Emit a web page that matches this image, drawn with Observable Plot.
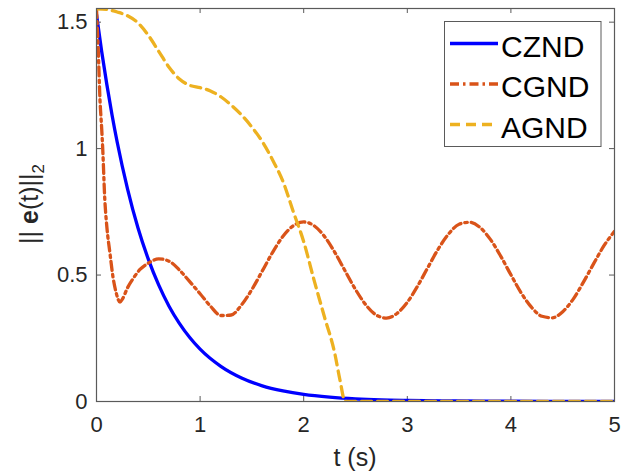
<!DOCTYPE html>
<html>
<head>
<meta charset="utf-8">
<script src="https://cdn.jsdelivr.net/npm/d3@7"></script>
<script src="https://cdn.jsdelivr.net/npm/@observablehq/plot@0.6"></script>
<style>
  html, body { margin: 0; padding: 0; background: #fff; }
  #chart svg { display: block; }
</style>
</head>
<body>
<div id="chart"></div>
<script>
// ---- data ----
const seriesNames = ["CZND", "CGND", "AGND"];
const seriesColors = ["#0000ff", "#d95319", "#edb120"];

const tCZND = [0, 0.05, 0.1, 0.15, 0.2, 0.3, 0.4, 0.5, 0.6, 0.7, 0.8, 0.9, 1.0, 1.2, 1.4, 1.6, 1.8, 2.0, 2.25, 2.5, 2.75, 3.0, 3.5, 4.0, 4.5, 5.0];
const yCZND = [1.530, 1.384, 1.253, 1.133, 1.025, 0.840, 0.687, 0.563, 0.461, 0.377, 0.309, 0.253, 0.207, 0.139, 0.093, 0.062, 0.042, 0.028, 0.017, 0.010, 0.006, 0.004, 0.002, 0.001, 0.000, 0.000];

const tCGND = [0, 0.017, 0.034, 0.05, 0.06, 0.08, 0.1, 0.13, 0.16, 0.19, 0.227, 0.25, 0.3, 0.36, 0.42, 0.5, 0.6, 0.7, 0.8, 0.9, 1.0, 1.1, 1.2,
  1.3, 1.4, 1.5, 1.6, 1.7, 1.8, 1.9, 2.0, 2.1, 2.2, 2.3, 2.4, 2.5, 2.6, 2.7, 2.8, 2.9, 3.0, 3.1, 3.2, 3.3, 3.4, 3.5, 3.6, 3.7, 3.8, 3.9,
  4.0, 4.1, 4.2, 4.3, 4.4, 4.5, 4.6, 4.7, 4.8, 4.9, 5.0];
const yCGND = [1.554, 1.39, 1.19, 1.08, 1.0, 0.80, 0.69, 0.586, 0.49, 0.43, 0.393, 0.405, 0.45, 0.49, 0.522, 0.547, 0.564, 0.555, 0.52, 0.474, 0.426, 0.377, 0.340,
  0.342, 0.382, 0.443, 0.516, 0.590, 0.653, 0.695, 0.710, 0.695, 0.653, 0.590, 0.516, 0.443, 0.382, 0.342, 0.330, 0.348, 0.392, 0.457, 0.531, 0.604, 0.663, 0.701, 0.709, 0.689, 0.642, 0.576,
  0.501, 0.429, 0.372, 0.337, 0.331, 0.355, 0.404, 0.472, 0.546, 0.617, 0.673];

const tAGND = [0, 0.1, 0.2, 0.3, 0.4, 0.5, 0.6, 0.7, 0.8, 0.9, 1.0, 1.1, 1.2, 1.3, 1.4, 1.5, 1.6, 1.7, 1.8, 1.9, 2.0, 2.1, 2.2, 2.3, 2.35, 2.4, 3.0, 4.0, 5.0];
const yAGND = [1.553, 1.55, 1.54, 1.525, 1.497, 1.448, 1.385, 1.322, 1.275, 1.25, 1.241, 1.228, 1.205, 1.172, 1.133, 1.085, 1.028, 0.955, 0.87, 0.75, 0.632, 0.48, 0.335, 0.19, 0.085, 0.0, 0.0, 0.0, 0.0];

const xTicks = [0, 1, 2, 3, 4, 5];
const yTicks = [0, 0.5, 1, 1.5];
const xLabel = "t (s)";

// ---- build tables ----
const czndData = tCZND.map((t, i) => ({t, v: yCZND[i]}));
const cgndData = tCGND.map((t, i) => ({t, v: yCGND[i]}));
const agndData = tAGND.map((t, i) => ({t, v: yAGND[i]}));

const W = 630, H = 474;
const mL = 96, mR = 16, mT = 8, mB = 73;
const innerH = H - mT - mB;
const innerW = W - mL - mR;
const axisColor = "#262626";
const frameColor = "#5a5a5a";
const tickLen = 5;
const font = "'Liberation Sans', Arial, Helvetica, sans-serif";
const lw = 3.3;
const dashCG = "9,4,2.5,4";
const dashAG = "10,6";

const chart = Plot.plot({
  width: W,
  height: H,
  marginLeft: mL,
  marginRight: mR,
  marginTop: mT,
  marginBottom: mB,
  style: {fontFamily: font, background: "#fff", color: axisColor, overflow: "visible"},
  x: {domain: [0, 5]},
  y: {domain: [0, 1.554]},
  marks: [
    Plot.axisX({ticks: xTicks, tickSize: 0, tickPadding: 15, fontSize: 22, label: null, tickFormat: d => String(d), fill: axisColor}),
    Plot.axisY({ticks: yTicks, tickSize: 0, tickPadding: 9, fontSize: 22, label: null, tickFormat: d => String(d), fill: axisColor}),
    // inward ticks on all four sides
    Plot.tickX(xTicks, {x: d => d, insetTop: innerH - tickLen, stroke: frameColor}),
    Plot.tickX(xTicks, {x: d => d, insetBottom: innerH - tickLen, stroke: frameColor}),
    Plot.tickY(yTicks, {y: d => d, insetRight: innerW - tickLen, stroke: frameColor}),
    Plot.tickY(yTicks, {y: d => d, insetLeft: innerW - tickLen, stroke: frameColor}),
    Plot.lineY(czndData, {x: "t", y: "v", stroke: seriesColors[0], strokeWidth: lw, clip: true, curve: "monotone-x"}),
    Plot.lineY(cgndData, {x: "t", y: "v", stroke: seriesColors[1], strokeWidth: lw, strokeDasharray: dashCG, clip: true, curve: "monotone-x"}),
    Plot.lineY(agndData, {x: "t", y: "v", stroke: seriesColors[2], strokeWidth: lw, strokeDasharray: dashAG, clip: true, curve: "monotone-x"}),
    Plot.frame({stroke: frameColor, strokeWidth: 1.2})
  ]
});

const svg = d3.select(chart);

// x label
svg.append("text")
  .attr("x", 355).attr("y", 466)
  .attr("text-anchor", "middle")
  .attr("font-family", font).attr("font-size", 25)
  .attr("fill", axisColor)
  .text(xLabel);

// y label: || e(t) ||_2
const yl = svg.append("text")
  .attr("transform", "translate(38,204) rotate(-90)")
  .attr("text-anchor", "middle")
  .attr("font-family", font).attr("font-size", 25)
  .attr("fill", axisColor);
yl.append("tspan").text("|| ");
yl.append("tspan").attr("font-weight", "bold").text("e");
yl.append("tspan").text("(t)||");
yl.append("tspan").attr("font-size", 17).attr("dy", 6).text("2");

// legend
const lg = svg.append("g");
lg.append("rect")
  .attr("x", 444.5).attr("y", 21.5).attr("width", 156.5).attr("height", 125)
  .attr("fill", "#fff").attr("stroke", frameColor).attr("stroke-width", 1);
const rowsY = [43.5, 84, 124.5];
const dashes = [null, dashCG, dashAG];
seriesNames.forEach((name, i) => {
  const ln = lg.append("line")
    .attr("x1", 450).attr("x2", 498)
    .attr("y1", rowsY[i]).attr("y2", rowsY[i])
    .attr("stroke", seriesColors[i]).attr("stroke-width", lw);
  if (dashes[i]) ln.attr("stroke-dasharray", dashes[i]);
  lg.append("text")
    .attr("x", 501).attr("y", rowsY[i] + 13)
    .attr("text-anchor", "start")
    .attr("font-family", font).attr("font-size", 30)
    .attr("fill", "#000")
    .text(name);
});

document.getElementById("chart").appendChild(chart);
</script>
</body>
</html>
